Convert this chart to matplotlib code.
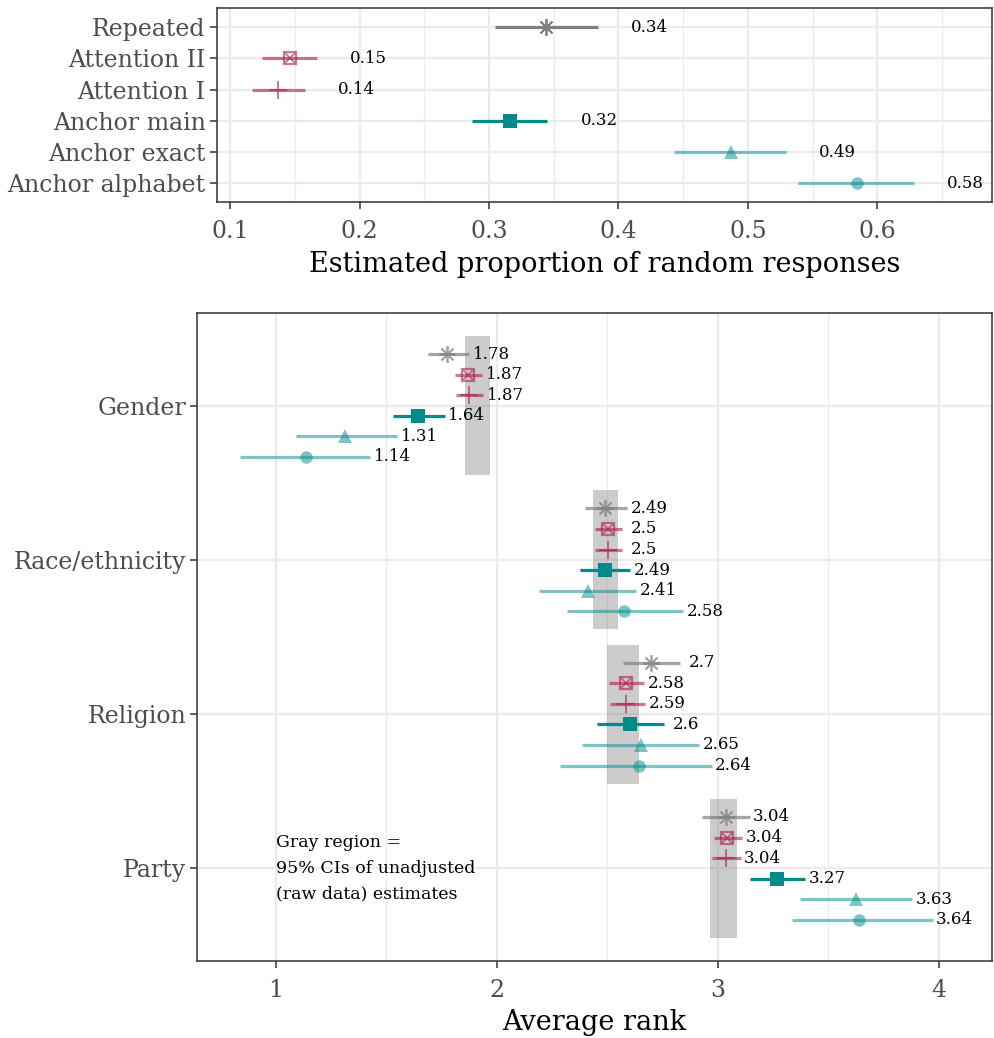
"""Dot-and-interval chart: random-response proportions and average ranks."""

import matplotlib

matplotlib.use("Agg")
import matplotlib.pyplot as plt  # noqa: E402
from matplotlib.patches import Rectangle  # noqa: E402
from matplotlib.ticker import MultipleLocator  # noqa: E402

# ---- data -----------------------------------------------------------------
methods = ["Repeated", "Attention II", "Attention I",
           "Anchor main", "Anchor exact", "Anchor alphabet"]

# top panel: estimated proportion of random responses
prop_est = [0.344, 0.146, 0.137, 0.316, 0.487, 0.584]
prop_lo = [0.305, 0.125, 0.117, 0.287, 0.443, 0.539]
prop_hi = [0.384, 0.167, 0.158, 0.345, 0.529, 0.628]

# bottom panel: average rank by topic (rows follow `methods`)
topics = ["Gender", "Race/ethnicity", "Religion", "Party"]
rank_est = {
    "Gender": [1.776, 1.871, 1.874, 1.643, 1.312, 1.138],
    "Race/ethnicity": [2.490, 2.502, 2.502, 2.487, 2.411, 2.577],
    "Religion": [2.697, 2.583, 2.586, 2.604, 2.652, 2.643],
    "Party": [3.037, 3.040, 3.037, 3.268, 3.626, 3.638],
}
rank_lo = {
    "Gender": [1.688, 1.811, 1.816, 1.530, 1.091, 0.839],
    "Race/ethnicity": [2.397, 2.445, 2.442, 2.376, 2.191, 2.319],
    "Religion": [2.570, 2.505, 2.511, 2.454, 2.386, 2.287],
    "Party": [2.930, 2.980, 2.971, 3.143, 3.373, 3.337],
}
rank_hi = {
    "Gender": [1.874, 1.934, 1.939, 1.763, 1.548, 1.428],
    "Race/ethnicity": [2.588, 2.566, 2.566, 2.604, 2.631, 2.843],
    "Religion": [2.828, 2.667, 2.670, 2.754, 2.915, 2.971],
    "Party": [3.143, 3.110, 3.103, 3.396, 3.877, 3.971],
}
# unadjusted (raw data) 95% CI per topic -> gray band
raw_lo = [1.857, 2.434, 2.498, 2.965]
raw_hi = [1.970, 2.550, 2.645, 3.088]

# ---- styling ---------------------------------------------------------------
FONT = "DejaVu Serif"
COLORS = ["#7f7f7f", "#aa1e50", "#aa1e50", "#008b8b", "#008b8b", "#008b8b"]
ALPHA_TOP = [1.0, 0.6, 0.6, 1.0, 0.5, 0.5]
ALPHA_BOT = [0.7, 0.6, 0.6, 1.0, 0.5, 0.5]
GRID = "#ebebeb"
SPINE = "#333333"
TICKTXT = "#4d4d4d"

plt.rcParams["font.family"] = [FONT]


def draw_marker(ax, x, y, i, color, alpha):
    kw = dict(color=color, alpha=alpha, linestyle="none", zorder=4)
    if i == 0:
        ax.plot(x, y, marker=(8, 2, 0), ms=12, mew=1.3, **kw)
    elif i == 1:
        ax.plot(x, y, marker="s", ms=9, mfc="none", mew=1.6, **kw)
        ax.plot(x, y, marker="x", ms=6.5, mew=1.3, **kw)
    elif i == 2:
        ax.plot(x, y, marker="+", ms=13, mew=1.4, **kw)
    elif i == 3:
        ax.plot(x, y, marker="s", ms=9.5, mew=0, **kw)
    elif i == 4:
        ax.plot(x, y, marker="^", ms=10.5, mew=0, **kw)
    else:
        ax.plot(x, y, marker="o", ms=9, mew=0, **kw)


def style_axes(ax):
    for s in ax.spines.values():
        s.set_color(SPINE)
        s.set_linewidth(1.1)
    ax.grid(True, which="major", color=GRID, linewidth=1.6, zorder=0)
    ax.grid(True, which="minor", axis="x", color=GRID, linewidth=0.9, zorder=0)
    ax.set_axisbelow(True)
    ax.tick_params(which="major", length=5, width=1.1, color=SPINE,
                   labelsize=17, labelcolor=TICKTXT, pad=3)
    ax.tick_params(axis="x", which="major", pad=8)
    ax.tick_params(which="minor", length=0)


fig = plt.figure(figsize=(9.95, 10.38), dpi=100)

# ---- top panel -------------------------------------------------------------
ax1 = fig.add_axes([0.2178, 0.8054, 0.7792, 0.1866])
n = len(methods)
for i in range(n):
    y = n - 1 - i
    ax1.hlines(y, prop_lo[i], prop_hi[i], color=COLORS[i], alpha=ALPHA_TOP[i],
               linewidth=2.3, zorder=3)
    draw_marker(ax1, prop_est[i], y, i, COLORS[i], ALPHA_TOP[i])
    ax1.text(prop_hi[i] + 0.04, y, f"{prop_est[i]:.2f}", ha="center",
             va="center", fontsize=12, zorder=5)
ax1.set_xlim(0.0897, 0.6885)
ax1.set_ylim(-0.6, n - 0.4)
ax1.set_yticks(range(n))
ax1.set_yticklabels(methods[::-1])
ax1.xaxis.set_major_locator(MultipleLocator(0.1))
ax1.xaxis.set_minor_locator(MultipleLocator(0.05))
ax1.set_xlabel("Estimated proportion of random responses", fontsize=19.5,
               labelpad=6)
style_axes(ax1)

# ---- bottom panel ----------------------------------------------------------
ax2 = fig.add_axes([0.1982, 0.0742, 0.7988, 0.6243])
nt = len(topics)
step = 0.8 / n
for t, topic in enumerate(topics):
    yc = nt - 1 - t
    ax2.add_patch(Rectangle((raw_lo[t], yc - 0.45), raw_hi[t] - raw_lo[t], 0.9,
                            facecolor="gray", alpha=0.4, edgecolor="none",
                            zorder=2))
    for i in range(n):
        y = yc + (2.5 - i) * step
        est, lo, hi = rank_est[topic][i], rank_lo[topic][i], rank_hi[topic][i]
        ax2.hlines(y, lo, hi, color=COLORS[i], alpha=ALPHA_BOT[i],
                   linewidth=2.3, zorder=3)
        draw_marker(ax2, est, y, i, COLORS[i], ALPHA_BOT[i])
        ax2.text(hi + 0.1, y, f"{round(est, 2):g}", ha="center", va="center",
                 fontsize=12, zorder=5)
ax2.text(1.0, 0, "Gray region =\n95% CIs of unadjusted\n(raw data) estimates",
         ha="left", va="center", fontsize=12.5, linespacing=1.65, zorder=5)
ax2.set_xlim(0.644, 4.24)
ax2.set_ylim(-0.6, nt - 0.4)
ax2.set_yticks(range(nt))
ax2.set_yticklabels(topics[::-1])
ax2.xaxis.set_major_locator(MultipleLocator(1))
ax2.xaxis.set_minor_locator(MultipleLocator(0.5))
ax2.set_xlabel("Average rank", fontsize=19.5, labelpad=5)
style_axes(ax2)

fig.savefig("out.png", dpi=100)
